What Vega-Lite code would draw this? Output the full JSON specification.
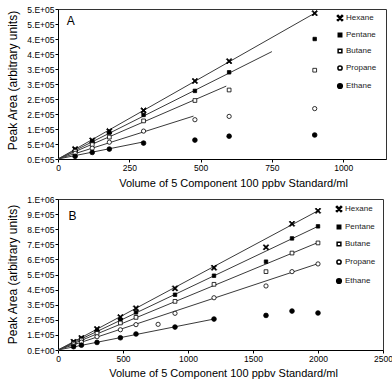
{
  "$schema": "https://vega.github.io/schema/vega-lite/v6.json",
  "padding": {"left": 5, "top": 4, "right": 0, "bottom": 0},
  "bounds": "flush",
  "spacing": 40,
  "background": "white",
  "config": {
    "font": "Liberation Sans",
    "view": {"stroke": "#333", "strokeWidth": 1},
    "axis": {
      "grid": false, "domainColor": "black", "tickColor": "black", "tickSize": 3,
      "labelPadding": 1, "labelFont": "Liberation Sans", "labelFontSize": 8.5, "labelColor": "black",
      "labelOverlap": false, "labelBound": false, "labelFlush": false,
      "titleFont": "Liberation Sans", "titleFontWeight": "normal", "titleColor": "black"
    },
    "legend": {
      "orient": "none", "title": null, "labelFontSize": 8, "labelFont": "Liberation Sans", "labelColor": "#222",
      "padding": 0, "labelOffset": 2
    }
  },
  "resolve": {"legend": {"shape": "independent", "fill": "independent", "size": "independent"}, "scale": {"shape": "independent", "fill": "independent", "size": "independent"}},
  "datasets": {
    "pts": [
      {"panel": "A", "series": "Hexane", "x": 60, "y": 33000},
      {"panel": "A", "series": "Hexane", "x": 120, "y": 62000},
      {"panel": "A", "series": "Hexane", "x": 180, "y": 93000},
      {"panel": "A", "series": "Hexane", "x": 300, "y": 162000},
      {"panel": "A", "series": "Hexane", "x": 480, "y": 260000},
      {"panel": "A", "series": "Hexane", "x": 600, "y": 326000},
      {"panel": "A", "series": "Hexane", "x": 900, "y": 486000},
      {"panel": "A", "series": "Pentane", "x": 60, "y": 30000},
      {"panel": "A", "series": "Pentane", "x": 120, "y": 60000},
      {"panel": "A", "series": "Pentane", "x": 180, "y": 88000},
      {"panel": "A", "series": "Pentane", "x": 300, "y": 147000},
      {"panel": "A", "series": "Pentane", "x": 480, "y": 227000},
      {"panel": "A", "series": "Pentane", "x": 600, "y": 289000},
      {"panel": "A", "series": "Pentane", "x": 900, "y": 400000},
      {"panel": "A", "series": "Butane", "x": 60, "y": 26000},
      {"panel": "A", "series": "Butane", "x": 120, "y": 48000},
      {"panel": "A", "series": "Butane", "x": 180, "y": 73000},
      {"panel": "A", "series": "Butane", "x": 300, "y": 127000},
      {"panel": "A", "series": "Butane", "x": 480, "y": 195000},
      {"panel": "A", "series": "Butane", "x": 600, "y": 230000},
      {"panel": "A", "series": "Butane", "x": 900, "y": 296000},
      {"panel": "A", "series": "Propane", "x": 60, "y": 19000},
      {"panel": "A", "series": "Propane", "x": 120, "y": 36000},
      {"panel": "A", "series": "Propane", "x": 180, "y": 56000},
      {"panel": "A", "series": "Propane", "x": 300, "y": 93000},
      {"panel": "A", "series": "Propane", "x": 480, "y": 131000},
      {"panel": "A", "series": "Propane", "x": 600, "y": 142000},
      {"panel": "A", "series": "Propane", "x": 900, "y": 168000},
      {"panel": "A", "series": "Ethane", "x": 60, "y": 9000},
      {"panel": "A", "series": "Ethane", "x": 120, "y": 22000},
      {"panel": "A", "series": "Ethane", "x": 180, "y": 33000},
      {"panel": "A", "series": "Ethane", "x": 300, "y": 53000},
      {"panel": "A", "series": "Ethane", "x": 480, "y": 63000},
      {"panel": "A", "series": "Ethane", "x": 600, "y": 76000},
      {"panel": "A", "series": "Ethane", "x": 900, "y": 80000},
      {"panel": "B", "series": "Hexane", "x": 120, "y": 55000},
      {"panel": "B", "series": "Hexane", "x": 180, "y": 80000},
      {"panel": "B", "series": "Hexane", "x": 300, "y": 139000},
      {"panel": "B", "series": "Hexane", "x": 480, "y": 218000},
      {"panel": "B", "series": "Hexane", "x": 600, "y": 276000},
      {"panel": "B", "series": "Hexane", "x": 900, "y": 408000},
      {"panel": "B", "series": "Hexane", "x": 1200, "y": 545000},
      {"panel": "B", "series": "Hexane", "x": 1600, "y": 680000},
      {"panel": "B", "series": "Hexane", "x": 1800, "y": 836000},
      {"panel": "B", "series": "Hexane", "x": 2000, "y": 922000},
      {"panel": "B", "series": "Pentane", "x": 120, "y": 50000},
      {"panel": "B", "series": "Pentane", "x": 180, "y": 75000},
      {"panel": "B", "series": "Pentane", "x": 300, "y": 128000},
      {"panel": "B", "series": "Pentane", "x": 480, "y": 200000},
      {"panel": "B", "series": "Pentane", "x": 600, "y": 249000},
      {"panel": "B", "series": "Pentane", "x": 900, "y": 366000},
      {"panel": "B", "series": "Pentane", "x": 1200, "y": 492000},
      {"panel": "B", "series": "Pentane", "x": 1600, "y": 585000},
      {"panel": "B", "series": "Pentane", "x": 1800, "y": 739000},
      {"panel": "B", "series": "Pentane", "x": 2000, "y": 819000},
      {"panel": "B", "series": "Butane", "x": 120, "y": 44000},
      {"panel": "B", "series": "Butane", "x": 180, "y": 66000},
      {"panel": "B", "series": "Butane", "x": 300, "y": 110000},
      {"panel": "B", "series": "Butane", "x": 480, "y": 179000},
      {"panel": "B", "series": "Butane", "x": 600, "y": 216000},
      {"panel": "B", "series": "Butane", "x": 900, "y": 322000},
      {"panel": "B", "series": "Butane", "x": 1200, "y": 435000},
      {"panel": "B", "series": "Butane", "x": 1600, "y": 519000},
      {"panel": "B", "series": "Butane", "x": 1800, "y": 642000},
      {"panel": "B", "series": "Butane", "x": 2000, "y": 709000},
      {"panel": "B", "series": "Propane", "x": 120, "y": 35000},
      {"panel": "B", "series": "Propane", "x": 180, "y": 52000},
      {"panel": "B", "series": "Propane", "x": 300, "y": 88000},
      {"panel": "B", "series": "Propane", "x": 480, "y": 134000},
      {"panel": "B", "series": "Propane", "x": 600, "y": 168000},
      {"panel": "B", "series": "Propane", "x": 770, "y": 170000},
      {"panel": "B", "series": "Propane", "x": 900, "y": 243000},
      {"panel": "B", "series": "Propane", "x": 1200, "y": 346000},
      {"panel": "B", "series": "Propane", "x": 1600, "y": 424000},
      {"panel": "B", "series": "Propane", "x": 1800, "y": 519000},
      {"panel": "B", "series": "Propane", "x": 2000, "y": 570000},
      {"panel": "B", "series": "Ethane", "x": 120, "y": 22000},
      {"panel": "B", "series": "Ethane", "x": 180, "y": 32000},
      {"panel": "B", "series": "Ethane", "x": 300, "y": 50000},
      {"panel": "B", "series": "Ethane", "x": 480, "y": 81000},
      {"panel": "B", "series": "Ethane", "x": 600, "y": 106000},
      {"panel": "B", "series": "Ethane", "x": 900, "y": 152000},
      {"panel": "B", "series": "Ethane", "x": 1200, "y": 205000},
      {"panel": "B", "series": "Ethane", "x": 1600, "y": 229000},
      {"panel": "B", "series": "Ethane", "x": 1800, "y": 258000},
      {"panel": "B", "series": "Ethane", "x": 2000, "y": 245000}
    ],
    "lines": [
      {"panel": "A", "series": "Hexane", "x": 0, "y": 0},
      {"panel": "A", "series": "Hexane", "x": 900, "y": 486000},
      {"panel": "A", "series": "Pentane", "x": 0, "y": 0},
      {"panel": "A", "series": "Pentane", "x": 750, "y": 358000},
      {"panel": "A", "series": "Butane", "x": 0, "y": 0},
      {"panel": "A", "series": "Butane", "x": 590, "y": 243000},
      {"panel": "A", "series": "Propane", "x": 0, "y": 0},
      {"panel": "A", "series": "Propane", "x": 475, "y": 143000},
      {"panel": "A", "series": "Ethane", "x": 0, "y": 0},
      {"panel": "A", "series": "Ethane", "x": 300, "y": 57000},
      {"panel": "B", "series": "Hexane", "x": 0, "y": 0},
      {"panel": "B", "series": "Hexane", "x": 2000, "y": 922000},
      {"panel": "B", "series": "Pentane", "x": 0, "y": 0},
      {"panel": "B", "series": "Pentane", "x": 2000, "y": 819000},
      {"panel": "B", "series": "Butane", "x": 0, "y": 0},
      {"panel": "B", "series": "Butane", "x": 2000, "y": 712000},
      {"panel": "B", "series": "Propane", "x": 0, "y": 0},
      {"panel": "B", "series": "Propane", "x": 2000, "y": 572000},
      {"panel": "B", "series": "Ethane", "x": 0, "y": 0},
      {"panel": "B", "series": "Ethane", "x": 1200, "y": 205000}
    ],
    "labels": [
      {"panel": "A", "label": "A"},
      {"panel": "B", "label": "B"}
    ]
  },
  "vconcat": [
    {
      "width": 328,
      "height": 150,
      "layer": [
        {
          "data": {"name": "lines"},
          "transform": [{"filter": "datum.panel == 'A'"}],
          "mark": {"type": "line", "color": "#3a3a3a", "strokeWidth": 1},
          "encoding": {
            "x": {"field": "x", "type": "quantitative", "scale": {"domain": [0, 1150], "nice": false},
              "axis": {"values": [0, 250, 500, 750, 1000], "format": "d", "title": "Volume of 5 Component 100 ppbv Standard/ml", "titleFontSize": 11, "titleX": 175, "titleY": 24, "titleBaseline": "middle"}},
            "y": {"field": "y", "type": "quantitative", "scale": {"domain": [0, 500000], "nice": false},
              "axis": {"values": [0, 50000, 100000, 150000, 200000, 250000, 300000, 350000, 400000, 450000, 500000],
                "labelExpr": "datum.value == 0 ? '0.E+05' : round(datum.value / pow(10, floor(log(datum.value) / LN10 + 1e-9))) + '.E+0' + floor(log(datum.value) / LN10 + 1e-9)",
                "title": "Peak Area (arbitrary units)", "titleFontSize": 12, "titleX": -46, "titleY": 71, "titleBaseline": "middle"}},
            "detail": {"field": "series"}
          }
        },
        {
          "data": {"name": "pts"},
          "transform": [{"filter": "datum.panel == 'A'"}],
          "mark": {"type": "point", "filled": true, "stroke": "black", "strokeWidth": 0.8, "opacity": 1},
          "encoding": {
            "x": {"field": "x", "type": "quantitative", "scale": {"domain": [0, 1150], "nice": false},
              "axis": {"values": [0, 250, 500, 750, 1000], "format": "d", "title": "Volume of 5 Component 100 ppbv Standard/ml", "titleFontSize": 11, "titleX": 175, "titleY": 24, "titleBaseline": "middle"}},
            "y": {"field": "y", "type": "quantitative", "scale": {"domain": [0, 500000], "nice": false},
              "axis": {"values": [0, 50000, 100000, 150000, 200000, 250000, 300000, 350000, 400000, 450000, 500000],
                "labelExpr": "datum.value == 0 ? '0.E+05' : round(datum.value / pow(10, floor(log(datum.value) / LN10 + 1e-9))) + '.E+0' + floor(log(datum.value) / LN10 + 1e-9)",
                "title": "Peak Area (arbitrary units)", "titleFontSize": 12, "titleX": -46, "titleY": 71, "titleBaseline": "middle"}},
            "shape": {"field": "series", "type": "nominal",
              "scale": {"domain": ["Hexane", "Pentane", "Butane", "Propane", "Ethane"], "range": ["M-1,-0.7L-0.7,-1L1,0.7L0.7,1Z M0.7,-1L1,-0.7L-0.7,1L-1,0.7Z", "square", "square", "circle", "circle"]},
              "legend": {"legendX": 278, "legendY": 5, "rowPadding": 6, "encode": {"symbols": {"update": {"stroke": {"value": "black"}, "strokeWidth": {"value": 0.8}}}}}},
            "fill": {"field": "series", "type": "nominal",
              "scale": {"domain": ["Hexane", "Pentane", "Butane", "Propane", "Ethane"], "range": ["black", "black", "white", "white", "black"]},
              "legend": {"legendX": 278, "legendY": 5, "rowPadding": 6, "encode": {"symbols": {"update": {"stroke": {"value": "black"}, "strokeWidth": {"value": 0.8}}}}}},
            "size": {"field": "series", "type": "nominal",
              "scale": {"type": "ordinal", "domain": ["Hexane", "Pentane", "Butane", "Propane", "Ethane"], "range": [30, 12, 14, 18, 22]},
              "legend": {"legendX": 278, "legendY": 5, "rowPadding": 6, "encode": {"symbols": {"update": {"stroke": {"value": "black"}, "strokeWidth": {"value": 0.8}}}}}}
          }
        },
        {
          "data": {"name": "labels"},
          "transform": [{"filter": "datum.panel == 'A'"}],
          "mark": {"type": "text", "fontSize": 12, "font": "Liberation Sans", "fill": "black"},
          "encoding": {
            "x": {"datum": 45, "type": "quantitative", "scale": {"domain": [0, 1150], "nice": false},
              "axis": {"values": [0, 250, 500, 750, 1000], "format": "d", "title": "Volume of 5 Component 100 ppbv Standard/ml", "titleFontSize": 11, "titleX": 175, "titleY": 24, "titleBaseline": "middle"}},
            "y": {"datum": 460000, "type": "quantitative", "scale": {"domain": [0, 500000], "nice": false},
              "axis": {"values": [0, 50000, 100000, 150000, 200000, 250000, 300000, 350000, 400000, 450000, 500000],
                "labelExpr": "datum.value == 0 ? '0.E+05' : round(datum.value / pow(10, floor(log(datum.value) / LN10 + 1e-9))) + '.E+0' + floor(log(datum.value) / LN10 + 1e-9)",
                "title": "Peak Area (arbitrary units)", "titleFontSize": 12, "titleX": -46, "titleY": 71, "titleBaseline": "middle"}},
            "text": {"field": "label"}
          }
        }
      ]
    },
    {
      "width": 325,
      "height": 151,
      "layer": [
        {
          "data": {"name": "lines"},
          "transform": [{"filter": "datum.panel == 'B'"}],
          "mark": {"type": "line", "color": "#3a3a3a", "strokeWidth": 1},
          "encoding": {
            "x": {"field": "x", "type": "quantitative", "scale": {"domain": [0, 2500], "nice": false},
              "axis": {"values": [0, 500, 1000, 1500, 2000, 2500], "format": "d", "title": "Volume of 5 Component 100 ppbv Standard/ml", "titleFontSize": 11, "titleX": 165, "titleY": 23, "titleBaseline": "middle"}},
            "y": {"field": "y", "type": "quantitative", "scale": {"domain": [0, 1000000], "nice": false},
              "axis": {"values": [0, 100000, 200000, 300000, 400000, 500000, 600000, 700000, 800000, 900000, 1000000],
                "labelExpr": "datum.value == 0 ? '0.E+00' : round(datum.value / pow(10, floor(log(datum.value) / LN10 + 1e-9))) + '.E+0' + floor(log(datum.value) / LN10 + 1e-9)",
                "title": "Peak Area (arbitrary units)", "titleFontSize": 12, "titleX": -46, "titleY": 75, "titleBaseline": "middle"}},
            "detail": {"field": "series"}
          }
        },
        {
          "data": {"name": "pts"},
          "transform": [{"filter": "datum.panel == 'B'"}],
          "mark": {"type": "point", "filled": true, "stroke": "black", "strokeWidth": 0.8, "opacity": 1},
          "encoding": {
            "x": {"field": "x", "type": "quantitative", "scale": {"domain": [0, 2500], "nice": false},
              "axis": {"values": [0, 500, 1000, 1500, 2000, 2500], "format": "d", "title": "Volume of 5 Component 100 ppbv Standard/ml", "titleFontSize": 11, "titleX": 165, "titleY": 23, "titleBaseline": "middle"}},
            "y": {"field": "y", "type": "quantitative", "scale": {"domain": [0, 1000000], "nice": false},
              "axis": {"values": [0, 100000, 200000, 300000, 400000, 500000, 600000, 700000, 800000, 900000, 1000000],
                "labelExpr": "datum.value == 0 ? '0.E+00' : round(datum.value / pow(10, floor(log(datum.value) / LN10 + 1e-9))) + '.E+0' + floor(log(datum.value) / LN10 + 1e-9)",
                "title": "Peak Area (arbitrary units)", "titleFontSize": 12, "titleX": -46, "titleY": 75, "titleBaseline": "middle"}},
            "shape": {"field": "series", "type": "nominal",
              "scale": {"domain": ["Hexane", "Pentane", "Butane", "Propane", "Ethane"], "range": ["M-1,-0.7L-0.7,-1L1,0.7L0.7,1Z M0.7,-1L1,-0.7L-0.7,1L-1,0.7Z", "square", "square", "circle", "circle"]},
              "legend": {"legendX": 277, "legendY": 6, "rowPadding": 7, "encode": {"symbols": {"update": {"stroke": {"value": "black"}, "strokeWidth": {"value": 0.8}}}}}},
            "fill": {"field": "series", "type": "nominal",
              "scale": {"domain": ["Hexane", "Pentane", "Butane", "Propane", "Ethane"], "range": ["black", "black", "white", "white", "black"]},
              "legend": {"legendX": 277, "legendY": 6, "rowPadding": 7, "encode": {"symbols": {"update": {"stroke": {"value": "black"}, "strokeWidth": {"value": 0.8}}}}}},
            "size": {"field": "series", "type": "nominal",
              "scale": {"type": "ordinal", "domain": ["Hexane", "Pentane", "Butane", "Propane", "Ethane"], "range": [30, 12, 14, 18, 22]},
              "legend": {"legendX": 277, "legendY": 6, "rowPadding": 7, "encode": {"symbols": {"update": {"stroke": {"value": "black"}, "strokeWidth": {"value": 0.8}}}}}}
          }
        },
        {
          "data": {"name": "labels"},
          "transform": [{"filter": "datum.panel == 'B'"}],
          "mark": {"type": "text", "fontSize": 12, "font": "Liberation Sans", "fill": "black"},
          "encoding": {
            "x": {"datum": 111, "type": "quantitative", "scale": {"domain": [0, 2500], "nice": false},
              "axis": {"values": [0, 500, 1000, 1500, 2000, 2500], "format": "d", "title": "Volume of 5 Component 100 ppbv Standard/ml", "titleFontSize": 11, "titleX": 165, "titleY": 23, "titleBaseline": "middle"}},
            "y": {"datum": 889000, "type": "quantitative", "scale": {"domain": [0, 1000000], "nice": false},
              "axis": {"values": [0, 100000, 200000, 300000, 400000, 500000, 600000, 700000, 800000, 900000, 1000000],
                "labelExpr": "datum.value == 0 ? '0.E+00' : round(datum.value / pow(10, floor(log(datum.value) / LN10 + 1e-9))) + '.E+0' + floor(log(datum.value) / LN10 + 1e-9)",
                "title": "Peak Area (arbitrary units)", "titleFontSize": 12, "titleX": -46, "titleY": 75, "titleBaseline": "middle"}},
            "text": {"field": "label"}
          }
        }
      ]
    }
  ]
}
